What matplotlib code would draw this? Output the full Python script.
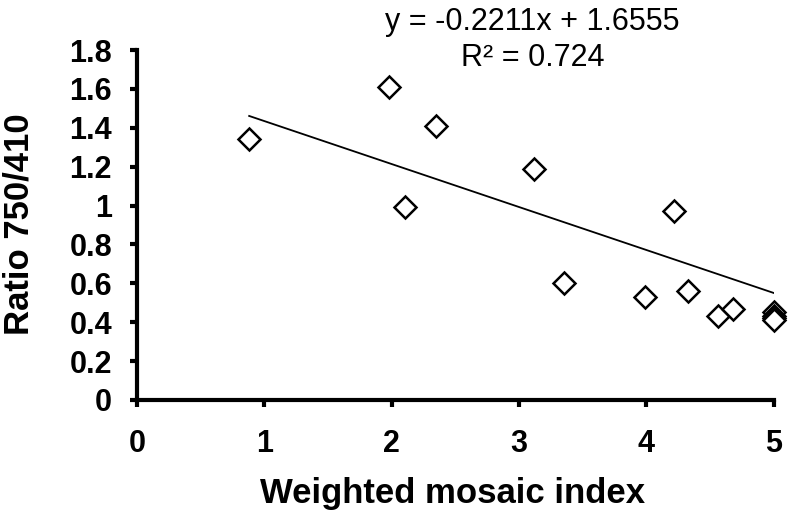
import matplotlib.pyplot as plt
import numpy as np

plt.rcParams['font.family'] = ['Liberation Sans', 'DejaVu Sans']

# data
mosaic_index = [0.88, 1.98, 2.10, 2.35, 3.12, 3.35, 3.99, 4.22, 4.33, 4.56, 4.68, 5.0, 5.0, 5.0, 5.0]
ratio = [1.34, 1.61, 0.99, 1.41, 1.19, 0.60, 0.53, 0.97, 0.56, 0.43, 0.47, 0.45, 0.43, 0.42, 0.41]
slope, intercept = -0.2211, 1.6555
r2 = 0.724
x_ticks = [0, 1, 2, 3, 4, 5]
y_ticks = [0, 0.2, 0.4, 0.6, 0.8, 1, 1.2, 1.4, 1.6, 1.8]

fig = plt.figure(figsize=(7.88, 5.16), dpi=100)
ax = fig.add_axes([0.174, 0.225, 0.808, 0.678])

ax.plot(mosaic_index, ratio, linestyle='none', marker='D', markersize=11,
        markerfacecolor='white', markeredgecolor='black', markeredgewidth=1.8,
        clip_on=False, zorder=3)

fit_x = np.array([min(mosaic_index), 5.0])
ax.plot(fit_x, slope * fit_x + intercept, color='black', linewidth=1.3, zorder=2)

ax.set_xlim(0, 5)
ax.set_ylim(0, 1.8)
ax.set_xticks(x_ticks)
ax.set_xticklabels([str(t) for t in x_ticks])
ax.set_yticks(y_ticks)
ax.set_yticklabels(['0', '0.2', '0.4', '0.6', '0.8', '1', '1.2', '1.4', '1.6', '1.8'])

for side in ['top', 'right']:
    ax.spines[side].set_visible(False)
for side in ['left', 'bottom']:
    ax.spines[side].set_linewidth(3)
ax.tick_params(direction='out', length=5, width=3, labelsize=22)
ax.tick_params(axis='x', pad=16)
ax.tick_params(axis='y', pad=13)
for lbl in ax.get_xticklabels() + ax.get_yticklabels():
    lbl.set_fontweight('bold')

ax.set_xlabel('Weighted mosaic index', fontsize=25, fontweight='bold', va='center')
ax.xaxis.set_label_coords(0.496, -0.268)
ax.set_ylabel('Ratio 750/410', fontsize=25, fontweight='bold', va='center')
ax.yaxis.set_label_coords(-0.185, 0.503)

fig.text(0.676, 0.957, f'y = {slope}x + {intercept}', fontsize=22, ha='center', va='center')
fig.text(0.676, 0.888, f'R² = {r2}', fontsize=22, ha='center', va='center')

plt.savefig('out.png', dpi=100)
